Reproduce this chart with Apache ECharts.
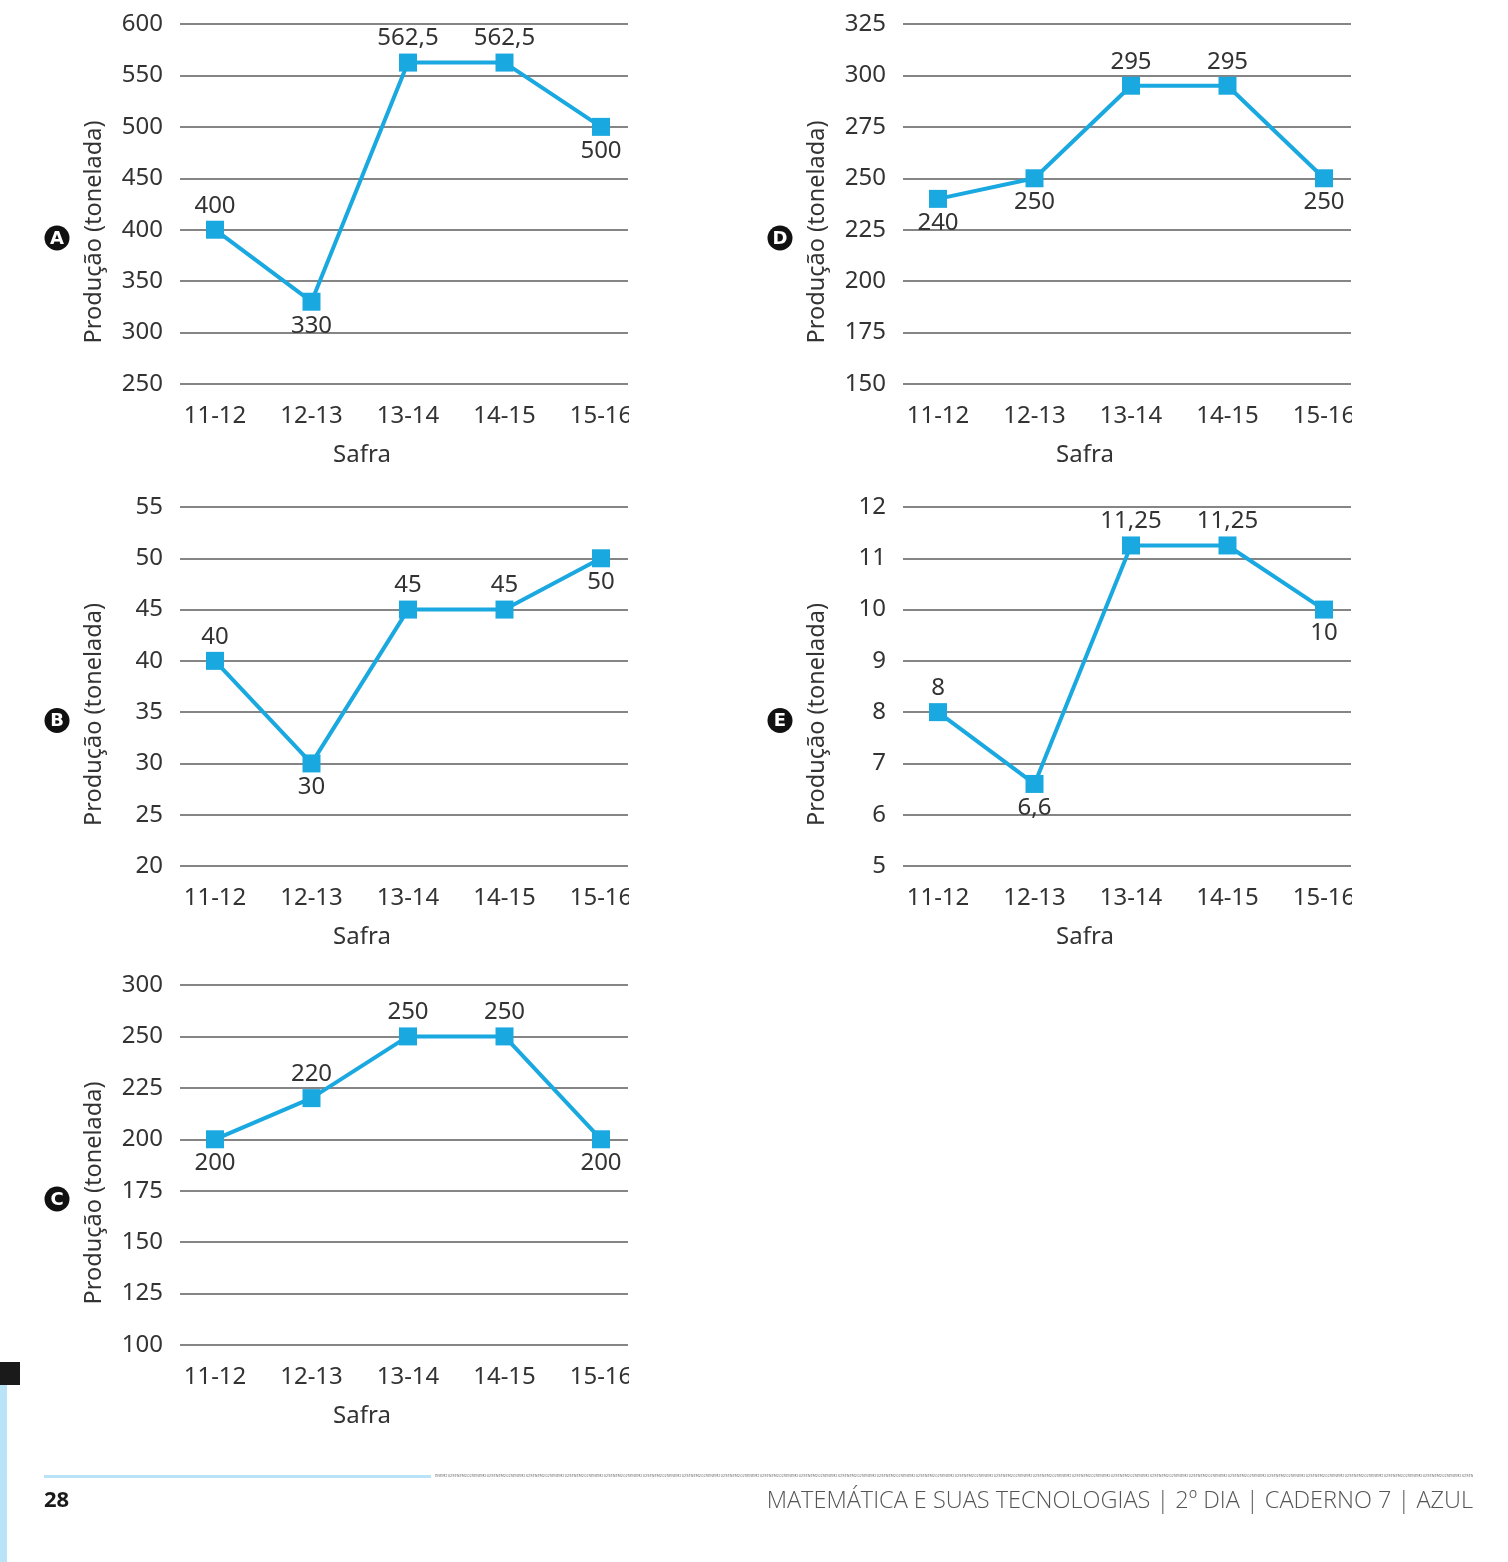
<!DOCTYPE html>
<html>
<head>
<meta charset="utf-8">
<script src="https://cdn.jsdelivr.net/npm/echarts@6/dist/echarts.min.js"></script>
<style>
html,body{margin:0;padding:0;background:#fff;}
#main{width:1508px;height:1562px;}
</style>
</head>
<body>
<div id="main"></div>
<script>
// ---- data ----
const categories = ['11-12', '12-13', '13-14', '14-15', '15-16'];

const valuesA = [400, 330, 562.5, 562.5, 500];
const valuesB = [40, 30, 45, 45, 50];
const valuesC = [200, 220, 250, 250, 200];
const valuesD = [240, 250, 295, 295, 250];
const valuesE = [8, 6.6, 11.25, 11.25, 10];

const ticksA = ['250', '300', '350', '400', '450', '500', '550', '600'];
const ticksB = ['20', '25', '30', '35', '40', '45', '50', '55'];
const ticksC = ['100', '125', '150', '175', '200', '225', '250', '300'];
const ticksD = ['150', '175', '200', '225', '250', '275', '300', '325'];
const ticksE = ['5', '6', '7', '8', '9', '10', '11', '12'];

const sideA = ['top', 'bottom', 'top', 'top', 'bottom'];
const sideB = ['top', 'bottom', 'top', 'top', 'bottom'];
const sideC = ['bottom', 'top', 'top', 'top', 'bottom'];
const sideD = ['bottom', 'bottom', 'top', 'top', 'bottom'];
const sideE = ['top', 'bottom', 'top', 'top', 'bottom'];

const yAxisName = 'Produção (tonelada)';
const xAxisName = 'Safra';
const footerLeft = '28';
const footerRight = 'MATEMÁTICA E SUAS TECNOLOGIAS | 2º DIA | CADERNO 7 | AZUL';

// ---- layout ----
const FONT = 'Noto Sans';
const TXT = '#333333';
const BLUE = '#1aa8e0';
const GRIDC = '#858585';

const panels = [
  {letter: 'A', values: valuesA, ticks: ticksA, side: sideA, min: 250, interval: 50, gx: 180, px: 215, top: 24, h: 360},
  {letter: 'D', values: valuesD, ticks: ticksD, side: sideD, min: 150, interval: 25, gx: 903, px: 938, top: 24, h: 360},
  {letter: 'B', values: valuesB, ticks: ticksB, side: sideB, min: 20, interval: 5, gx: 180, px: 215, top: 507, h: 359},
  {letter: 'E', values: valuesE, ticks: ticksE, side: sideE, min: 5, interval: 1, gx: 903, px: 938, top: 507, h: 359},
  {letter: 'C', values: valuesC, ticks: ticksC, side: sideC, min: 100, interval: 25, gx: 180, px: 215, top: 985, h: 360}
];

const grid = [], xAxis = [], yAxis = [], series = [], graphic = [];

panels.forEach((p, i) => {
  const max = p.min + p.interval * (p.ticks.length - 1);
  const gLines = 2 * i, gSeries = 2 * i + 1;
  grid.push({left: p.gx, top: p.top, width: 448, height: p.h});
  grid.push({left: p.px, top: p.top, width: 386, height: p.h});

  xAxis.push({gridIndex: gLines, type: 'value', show: false, min: 0, max: 1});
  xAxis.push({
    gridIndex: gSeries, type: 'category', data: categories, boundaryGap: false,
    axisLine: {show: false}, axisTick: {show: false},
    axisLabel: {fontFamily: FONT, fontSize: 24, color: TXT, margin: 20, interval: 0},
    name: xAxisName, nameLocation: 'middle', nameGap: 59,
    nameTextStyle: {fontFamily: FONT, fontSize: 24, color: TXT, padding: [0, 92, 0, 0]}
  });

  yAxis.push({
    gridIndex: gLines, type: 'value', min: p.min, max: max, interval: p.interval,
    axisLine: {show: false}, axisTick: {show: false},
    splitLine: {show: true, lineStyle: {color: GRIDC, width: 2}},
    axisLabel: {
      fontFamily: FONT, fontSize: 24, color: TXT, margin: 17,
      formatter: (v) => p.ticks[Math.round((v - p.min) / p.interval)]
    },
    name: yAxisName, nameLocation: 'middle', nameRotate: 90, nameGap: 74,
    nameTextStyle: {fontFamily: FONT, fontSize: 23.5, color: TXT, padding: [0, 56, 0, 0]}
  });
  yAxis.push({gridIndex: gSeries, type: 'value', min: p.min, max: max, show: false});

  series.push({
    type: 'line', xAxisIndex: gSeries, yAxisIndex: gSeries,
    data: p.values.map((v, k) => ({value: v, label: {position: p.side[k]}})),
    symbol: 'rect', symbolSize: 18,
    lineStyle: {color: BLUE, width: 4},
    itemStyle: {color: BLUE},
    clip: false,
    label: {
      show: true, distance: 3, fontFamily: FONT, fontSize: 24, color: TXT,
      formatter: (d) => String(d.value).replace('.', ',')
    },
    z: 3
  });

  // letter badge
  const bx = p.gx - 123, by = p.top + p.h / 2 + 34;
  graphic.push({type: 'circle', shape: {cx: bx, cy: by, r: 12.5}, style: {fill: '#111'}, z: 10});
  graphic.push({type: 'text', x: bx, y: by + 1, style: {text: p.letter, fill: '#fff', font: 'bold 18px "DejaVu Sans"', textAlign: 'center', textVerticalAlign: 'middle'}, z: 11});
});

// clipping masks (the source figure is cropped at the right of each panel)
graphic.push({type: 'rect', shape: {x: 629, y: 0, width: 90, height: 1440}, style: {fill: '#fff'}, z: 50});
graphic.push({type: 'rect', shape: {x: 1352, y: 0, width: 156, height: 960}, style: {fill: '#fff'}, z: 50});

// page decorations
graphic.push({type: 'rect', shape: {x: 0, y: 1362, width: 20, height: 23}, style: {fill: '#1a1a1a'}, z: 20});
graphic.push({type: 'rect', shape: {x: 0, y: 1385, width: 7, height: 177}, style: {fill: '#b9e3f6'}, z: 20});
graphic.push({type: 'rect', shape: {x: 44, y: 1475, width: 387, height: 3}, style: {fill: '#b9e3f6'}, z: 20});
graphic.push({type: 'text', x: 435, y: 1476, style: {text: 'ENEM2025'.repeat(60), fill: '#777', font: '4px "DejaVu Sans Condensed"', textVerticalAlign: 'middle'}, z: 20});
graphic.push({type: 'rect', shape: {x: 1473, y: 1468, width: 35, height: 16}, style: {fill: '#fff'}, z: 21});
graphic.push({type: 'text', x: 44, y: 1501, style: {text: footerLeft, fill: '#1a1a1a', font: 'bold 22px "Open Sans"', textVerticalAlign: 'middle'}, z: 20});
graphic.push({type: 'text', x: 1473, y: 1501, style: {text: footerRight, fill: '#555', font: '300 23.5px "Open Sans"', textAlign: 'right', textVerticalAlign: 'middle'}, z: 20});

const chart = echarts.init(document.getElementById('main'), null, {renderer: 'canvas'});
chart.setOption({
  animation: false,
  backgroundColor: '#fff',
  grid, xAxis, yAxis, series, graphic
});
</script>
</body>
</html>
